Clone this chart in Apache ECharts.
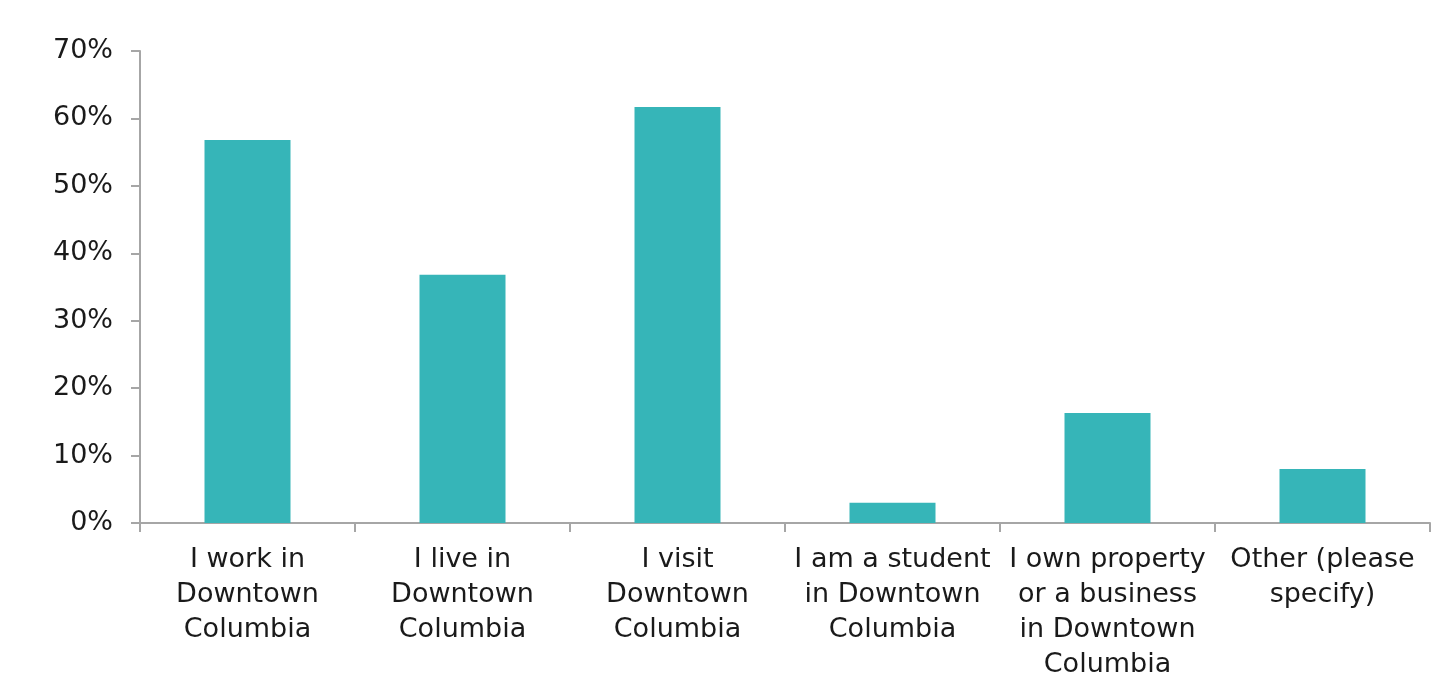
<!DOCTYPE html>
<html>
<head>
<meta charset="utf-8">
<script src="https://cdn.jsdelivr.net/npm/echarts@6/dist/echarts.min.js"></script>
<style>
html,body{margin:0;padding:0;background:#fff;}
#chart{width:1452px;height:691px;}
</style>
</head>
<body>
<div id="chart"></div>
<script>
const categories = [
  "I work in\nDowntown\nColumbia",
  "I live in\nDowntown\nColumbia",
  "I visit\nDowntown\nColumbia",
  "I am a student\nin Downtown\nColumbia",
  "I own property\nor a business\nin Downtown\nColumbia",
  "Other (please\nspecify)"
];
const values = [56.8, 36.8, 61.7, 3.0, 16.3, 8.0];
const yTicks = [0, 10, 20, 30, 40, 50, 60, 70];

const chart = echarts.init(document.getElementById('chart'), null, {renderer: 'canvas'});
const font = '"DejaVu Sans", sans-serif';
chart.setOption({
  animation: false,
  grid: {left: 140, right: 22, top: 51, bottom: 168, containLabel: false},
  xAxis: {
    type: 'category',
    data: categories,
    axisLine: {show: true, lineStyle: {color: '#a6a6a6', width: 2}},
    axisTick: {show: true, length: 9, alignWithLabel: false, lineStyle: {color: '#a6a6a6', width: 2}},
    axisLabel: {interval: 0, margin: 19, color: '#1a1a1a', fontSize: 27, lineHeight: 35, fontFamily: font}
  },
  yAxis: {
    type: 'value',
    min: yTicks[0],
    max: yTicks[yTicks.length - 1],
    interval: 10,
    splitLine: {show: false},
    axisLine: {show: true, lineStyle: {color: '#a6a6a6', width: 2}},
    axisTick: {show: true, length: 9, lineStyle: {color: '#a6a6a6', width: 2}},
    axisLabel: {margin: 27, color: '#1a1a1a', fontSize: 27, fontFamily: font, formatter: v => v + '%'}
  },
  series: [{
    type: 'bar',
    data: values,
    barWidth: '40%',
    itemStyle: {color: '#36b5b8'}
  }]
});
</script>
</body>
</html>
